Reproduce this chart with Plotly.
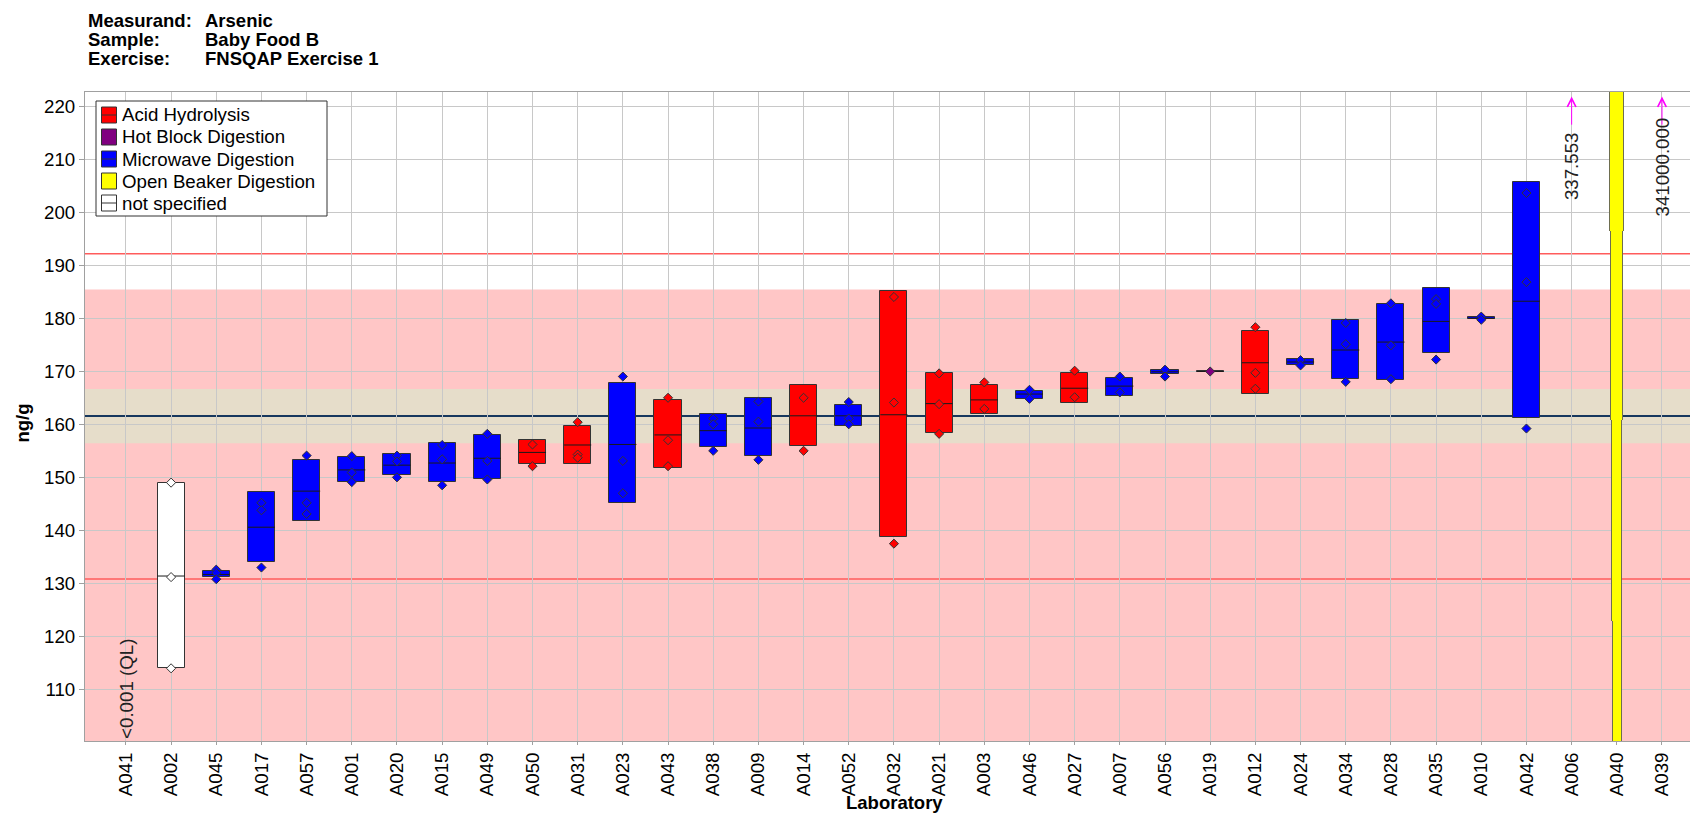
import plotly.graph_objects as go

# ---------------- data ----------------
labs = ["A041", "A002", "A045", "A017", "A057", "A001", "A020", "A015", "A049", "A050",
        "A031", "A023", "A043", "A038", "A009", "A014", "A052", "A032", "A021", "A003",
        "A046", "A027", "A007", "A056", "A019", "A012", "A024", "A034", "A028", "A035",
        "A010", "A042", "A006", "A040", "A039"]

# AH = Acid Hydrolysis, HB = Hot Block, MW = Microwave, OB = Open Beaker, NS = not specified
method = [None, "NS", "MW", "MW", "MW", "MW", "MW", "MW", "MW", "AH",
          "AH", "MW", "AH", "MW", "MW", "AH", "MW", "AH", "AH", "AH",
          "MW", "AH", "MW", "MW", "HB", "AH", "MW", "MW", "MW", "MW",
          "MW", "MW", None, "OB", None]

box_low = [None, 114.15, 131.25, 134.0, 141.7, 149.1, 150.4, 149.1, 149.6, 152.5,
           152.5, 145.1, 151.8, 155.7, 154.0, 156.0, 159.7, 138.7, 158.4, 162.0,
           164.8, 164.1, 165.4, 169.4, 169.9, 165.8, 171.25, 168.6, 168.4, 173.4,
           179.85, 161.1, None, None, None]
box_mid = [None, 131.4, 131.7, 140.6, 147.4, 151.4, 152.3, 152.7, 153.6, 154.7,
           156.1, 156.2, 158.0, 158.8, 159.3, 161.6, 161.6, 161.8, 163.9, 164.6,
           165.7, 166.8, 167.2, 169.9, 169.95, 171.6, 171.75, 174.0, 175.5, 179.4,
           180.0, 183.2, None, None, None]
box_high = [None, 148.9, 132.4, 147.2, 153.3, 153.8, 154.4, 156.5, 158.0, 157.0,
            159.7, 167.7, 164.6, 161.9, 165.0, 167.5, 163.6, 185.1, 169.6, 167.5,
            166.3, 169.6, 168.8, 170.3, 170.0, 177.6, 172.3, 179.6, 182.6, 185.7,
            180.15, 205.6, None, None, None]
points = [[], [149.0, 131.2, 114.0], [132.6, 132.0, 130.8], [145.2, 143.8, 133.0],
          [154.1, 145.2, 143.1], [154.0, 150.9, 149.1], [154.1, 153.0, 150.0],
          [156.1, 153.4, 148.5], [158.2, 153.1, 149.6], [156.2, 152.1],
          [160.4, 154.3, 153.7], [169.0, 153.1, 147.0], [165.0, 157.0, 152.1],
          [161.1, 160.0, 155.0], [164.3, 160.5, 153.3], [165.0, 155.0],
          [164.2, 161.1, 160.0], [184.0, 164.1, 137.5], [169.6, 163.8, 158.2],
          [167.9, 162.9], [166.5, 164.8], [170.1, 165.1], [169.0, 166.0],
          [170.3, 169.0], [169.95], [178.3, 169.7, 166.7], [172.1, 171.1],
          [179.1, 175.1, 168.0], [182.8, 174.9, 168.5], [183.6, 182.7, 172.2],
          [180.3, 179.7], [203.6, 186.8, 159.2], [], [], []]

# A040: open beaker result drawn as a tall stepped bar (segment edges, ng/g)
a040_edges = [60.0, 123.0, 160.8, 196.5, 260.0]

# off-scale results
offscale_labs = ["A006", "A039"]
offscale_vals = [337.553, 341000.000]
ql_lab = "A041"
ql_text = "<0.001 (QL)"

assigned = 161.55
band_lo, band_hi = 156.45, 166.65
limit_lo, limit_hi = 130.85, 192.15
pink_top = 185.4

method_names = {"AH": "Acid Hydrolysis", "HB": "Hot Block Digestion", "MW": "Microwave Digestion",
                "OB": "Open Beaker Digestion", "NS": "not specified"}
method_order = ["AH", "HB", "MW", "OB", "NS"]
colors = {"AH": "#FF0000", "HB": "#800080", "MW": "#0000FF", "OB": "#FFFF00", "NS": "#FFFFFF"}

# ---------------- layout geometry ----------------
W, H = 1690, 813
PL, PR, PT, PB = 85, 1690, 92, 741
y_range = [100.3, 222.64]
x_range = [-0.905, 34.62]
FONT = "Liberation Sans, Arial, sans-serif"
FS = 18.7
OUT = "#333333"


def pxx(x):
    return (x - PL) / (PR - PL)


def pxy(y):
    return (PB - y) / (PB - PT)


fig = go.Figure()
idx = {l: i for i, l in enumerate(labs)}

# boxes per method
for m in method_order:
    ii = [i for i in range(len(labs)) if method[i] == m and box_low[i] is not None]
    if not ii:
        continue
    fig.add_trace(go.Bar(
        x=ii, base=[box_low[i] for i in ii], y=[box_high[i] - box_low[i] for i in ii],
        width=0.6, marker=dict(color=colors[m], line=dict(color=OUT, width=1)),
        hoverinfo="skip", showlegend=False))

# A040 stepped bar
a040_i = idx["A040"]
a040_w = [0.17, 0.2, 0.243, 0.294]
nseg = len(a040_edges) - 1
fig.add_trace(go.Bar(
    x=[a040_i] * nseg, base=a040_edges[:-1],
    y=[a040_edges[k + 1] - a040_edges[k] for k in range(nseg)],
    width=[w + 0.045 for w in a040_w], marker=dict(color="#6E6E50", line=dict(width=0)),
    hoverinfo="skip", showlegend=False))
fig.add_trace(go.Bar(
    x=[a040_i] * nseg, base=a040_edges[:-1],
    y=[a040_edges[k + 1] - a040_edges[k] for k in range(nseg)],
    width=a040_w, marker=dict(color=colors["OB"], line=dict(width=0)),
    hoverinfo="skip", showlegend=False))

# median lines
for m in method_order:
    xs, ys = [], []
    for i in range(len(labs)):
        if method[i] == m and box_mid[i] is not None:
            xs += [i - 0.3, i + 0.3, None]
            ys += [box_mid[i], box_mid[i], None]
    if xs:
        fig.add_trace(go.Scatter(x=xs, y=ys, mode="lines", line=dict(color="#1A1A1A", width=1),
                                 hoverinfo="skip", showlegend=False))

# individual results
for m in method_order:
    xs, ys = [], []
    for i in range(len(labs)):
        if method[i] == m:
            for v in points[i]:
                xs.append(i)
                ys.append(v)
    if xs:
        fig.add_trace(go.Scatter(x=xs, y=ys, mode="markers",
                                 marker=dict(symbol="diamond", size=7, color=colors[m],
                                             line=dict(color=OUT, width=1)),
                                 hoverinfo="skip", showlegend=False))

shapes = [
    dict(type="rect", xref="paper", yref="y", x0=0, x1=1, y0=y_range[0], y1=pink_top,
         fillcolor="#FFC6C6", line=dict(width=0), layer="below"),
    dict(type="rect", xref="paper", yref="y", x0=0, x1=1, y0=band_lo, y1=band_hi,
         fillcolor="#E6DDCA", line=dict(width=0), layer="below"),
    dict(type="line", xref="paper", yref="y", x0=0, x1=1, y0=limit_hi, y1=limit_hi,
         line=dict(color="#FF5C5C", width=1.5), layer="between"),
    dict(type="line", xref="paper", yref="y", x0=0, x1=1, y0=limit_lo, y1=limit_lo,
         line=dict(color="#FF5C5C", width=1.5), layer="between"),
    dict(type="line", xref="paper", yref="y", x0=0, x1=1, y0=assigned, y1=assigned,
         line=dict(color="#17375E", width=2), layer="between"),
]

annotations = []

# title block
title_rows = [("Measurand:", "Arsenic"), ("Sample:", "Baby Food B"), ("Exercise:", "FNSQAP Exercise 1")]
for r, (k, v) in enumerate(title_rows):
    yc = 20.5 + r * 19.2
    annotations.append(dict(xref="paper", yref="paper", x=pxx(86), y=pxy(yc), xanchor="left",
                            yanchor="middle", text="<b>%s</b>" % k, showarrow=False,
                            font=dict(family=FONT, size=18.5, color="#000")))
    annotations.append(dict(xref="paper", yref="paper", x=pxx(203), y=pxy(yc), xanchor="left",
                            yanchor="middle", text="<b>%s</b>" % v, showarrow=False,
                            font=dict(family=FONT, size=18.5, color="#000")))

# axis titles
annotations.append(dict(xref="paper", yref="paper", x=pxx(21.5), y=pxy(423), textangle=-90,
                        xanchor="center", yanchor="middle", text="<b>ng/g</b>", showarrow=False,
                        font=dict(family=FONT, size=18.5, color="#000")))
annotations.append(dict(xref="paper", yref="paper", x=pxx(894), y=pxy(802),
                        xanchor="center", yanchor="middle", text="<b>Laboratory</b>", showarrow=False,
                        font=dict(family=FONT, size=18.5, color="#000")))

# QL label
annotations.append(dict(xref="x", yref="paper", x=idx[ql_lab], y=0, textangle=-90,
                        xanchor="center", yanchor="bottom", text=ql_text, showarrow=False,
                        font=dict(family=FONT, size=FS, color="#222")))

# off-scale values with arrows
for lab, v in zip(offscale_labs, offscale_vals):
    annotations.append(dict(xref="x", yref="y", x=idx[lab], y=221.8, ax=idx[lab], ay=216.2,
                            axref="x", ayref="y", text="", showarrow=True, arrowhead=5,
                            arrowsize=1.7, arrowwidth=1, arrowcolor="#FF00FF"))
    annotations.append(dict(xref="x", yref="y", x=idx[lab], y=208.6, textangle=-90,
                            xanchor="center", yanchor="middle", text="%.3f" % v, showarrow=False,
                            font=dict(family=FONT, size=FS, color="#222")))

# manual legend
lx0, lx1, ly0, ly1 = 96, 327, 101, 216
shapes.append(dict(type="rect", xref="paper", yref="paper", x0=pxx(lx0), x1=pxx(lx1),
                   y0=pxy(ly1), y1=pxy(ly0), fillcolor="#FFFFFF",
                   line=dict(color="#333", width=1), layer="above"))
for r, m in enumerate(method_order):
    yc = 115 + r * 22
    shapes.append(dict(type="rect", xref="paper", yref="paper", x0=pxx(101.5), x1=pxx(116.5),
                       y0=pxy(yc + 8), y1=pxy(yc - 8), fillcolor=colors[m],
                       line=dict(color="#333", width=1), layer="above"))
    if m in ("AH", "MW", "NS"):
        shapes.append(dict(type="line", xref="paper", yref="paper", x0=pxx(101.5), x1=pxx(116.5),
                           y0=pxy(yc), y1=pxy(yc), line=dict(color="#333", width=1), layer="above"))
    annotations.append(dict(xref="paper", yref="paper", x=pxx(120), y=pxy(yc), xanchor="left",
                            yanchor="middle", text=method_names[m], showarrow=False,
                            font=dict(family=FONT, size=FS, color="#000")))

axis_common = dict(showgrid=True, gridcolor="#C8C8C8", gridwidth=1, showline=True,
                   linecolor="#A0A0A0", linewidth=1, mirror=True, ticks="outside",
                   tickcolor="#A0A0A0", zeroline=False,
                   tickfont=dict(family=FONT, size=FS, color="#000"))

fig.update_layout(
    width=W, height=H, autosize=False,
    margin=dict(l=PL, r=W - PR, t=PT, b=H - PB, pad=0),
    paper_bgcolor="#FFFFFF", plot_bgcolor="#FFFFFF",
    barmode="overlay", bargap=0, showlegend=False,
    xaxis=dict(range=x_range, tickmode="array", tickvals=list(range(len(labs))), ticktext=labs,
               tickangle=-90, ticklen=3, **axis_common),
    yaxis=dict(range=y_range, tick0=0, dtick=10, ticklen=5, **axis_common),
    shapes=shapes, annotations=annotations,
)

fig.write_html("out.html", config={"displayModeBar": False},
               post_script="document.body.style.margin='0';document.body.style.overflow='hidden';")
